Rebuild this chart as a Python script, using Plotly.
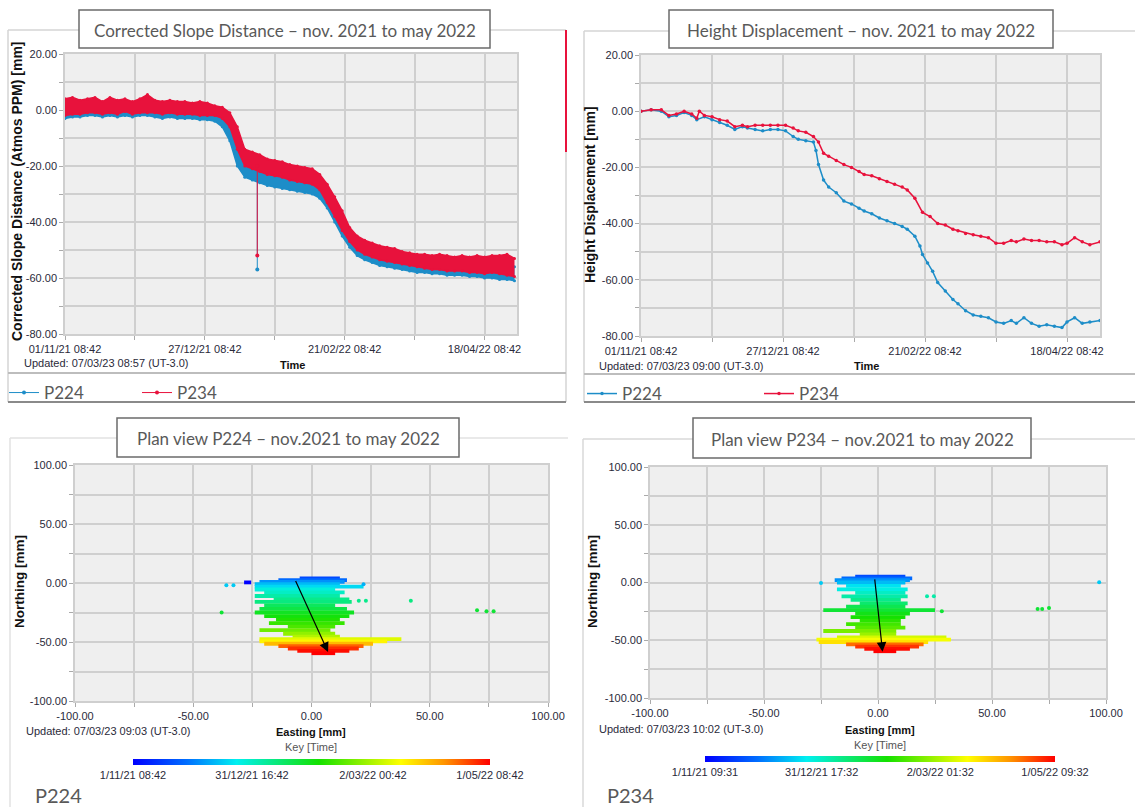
import plotly.graph_objects as go
from plotly.colors import sample_colorscale

W, H = 1135, 807
def px(x): return x / W
def py(y): return 1 - y / H

# ---------------- data ----------------
# time axis: days since 01/11/21 08:42
time_tick_days = [0, 56, 112, 168]
time_tick_text = ["01/11/21 08:42", "27/12/21 08:42", "21/02/22 08:42", "18/04/22 08:42"]
time_minor_days = [28, 84, 140]
ts_y_ticks = [20, 0, -20, -40, -60, -80]
ts_y_minor = [10, -10, -30, -50, -70]

# Corrected slope distance: envelope of the dense point cloud, sampled every 3 days
slope_days = [0, 3, 6, 9, 12, 15, 18, 21, 24, 27,
              30, 33, 36, 39, 42, 45, 48, 51, 54, 57,
              60, 63, 66, 69, 72, 75, 78, 81, 84, 87,
              90, 93, 96, 99, 102, 105, 108, 111, 114, 117,
              120, 123, 126, 129, 132, 135, 138, 141, 144, 147,
              150, 153, 156, 159, 162, 165, 168, 171, 174, 177,
              180]
p234_slope_hi = [4, 4.5, 3.5, 4, 4.5, 3, 4.5, 3.5, 4, 3,
                 4, 5.5, 3.5, 3, 3.5, 3, 3, 2.5, 3, 2.5,
                 1.5, 1, -1, -6, -14, -15, -16, -17.5, -18, -18.5,
                 -19.5, -20, -20.5, -21, -23, -26.5, -31, -36, -42, -45,
                 -46.5, -47.5, -48.5, -49, -49.5, -50.5, -51, -51.5, -51.5, -52,
                 -51.5, -52, -52.5, -52, -52.5, -52, -52.5, -52, -52, -51.5,
                 -53]
p234_slope_lo = [-2, -1.5, -1.5, -1, -1, -1.5, -1, -1.5, -0.5, -1.5,
                 -1, -1, -1, -1.5, -1, -1.5, -1.5, -1.5, -2, -2,
                 -2, -3, -6, -14, -20, -21, -22, -23, -23.5, -24,
                 -25, -25.5, -26, -26.5, -28.5, -33, -38, -43, -47, -50,
                 -51.5, -52.5, -53.5, -54, -54.5, -55, -55.5, -56, -56.5, -57,
                 -57, -57.5, -57.5, -57.5, -58, -58, -58.5, -58, -58.5, -59,
                 -59.5]
p224_slope_hi = [2, 2.5, 2, 2, 2.5, 1.5, 2, 1.5, 2, 1.5,
                 2, 1.5, 1.5, 1, 1.5, 1, 1, 0.5, 0.5, 0,
                 -0.5, -2, -6, -13, -19, -20, -21, -22, -22.5, -23,
                 -23.5, -24, -24.5, -25, -26.5, -30, -34, -39, -44, -47,
                 -49, -50, -51, -51.5, -52, -52.5, -53, -53.5, -54, -54,
                 -54, -54.5, -54.5, -54.5, -55, -55, -55, -55, -55.5, -55.5,
                 -56]
p224_slope_lo = [-3, -2.5, -2.5, -2, -2, -2.5, -2, -2.5, -2, -2.5,
                 -2, -2, -2.5, -3, -2.5, -3, -3, -3, -3.5, -3.5,
                 -4, -6, -11, -20, -24, -25, -26, -27, -27.5, -28,
                 -28.5, -29, -29.5, -30, -31.5, -35, -40, -45, -49, -52,
                 -53.5, -54.5, -55.5, -56, -56.5, -57, -57.5, -58, -58, -58.5,
                 -58.5, -59, -59, -59, -59.5, -59.5, -60, -60, -60.5, -60.5,
                 -61]
# single outlier reading (day 77)
spike_days = [77, 77]
p224_spike = [-25, -57]
p234_spike = [-20, -52]

# Height displacement
p224_hd_days = [0, 4, 8, 11, 14, 17, 20, 22, 25, 28,
                31, 34, 37, 40, 42, 45, 48, 51, 54, 57,
                60, 62, 65, 68, 69, 70, 72, 74, 77, 80,
                83, 86, 88, 91, 94, 97, 100, 103, 105, 108,
                110, 111, 113, 115, 117, 120, 123, 125, 128, 131,
                134, 137, 140, 143, 146, 148, 151, 154, 157, 160,
                163, 166, 168, 171, 174, 177, 181]
p224_hd = [0, 0.5, 0, -2, -1.5, -0.5, -1.5, -3, -2, -3,
           -4, -5, -6.5, -5.5, -6, -6.5, -7, -6.5, -6.5, -7,
           -9, -10, -10.5, -11, -14, -19, -24.5, -27, -29, -32,
           -33, -34.5, -35.5, -36.5, -38, -39, -40, -41, -42, -44.5,
           -48, -51, -54, -57, -61, -64, -67, -68.5, -71, -72.5,
           -73, -73.5, -75, -75.5, -74.5, -75.5, -73.5, -75.5, -76.5, -76,
           -76.5, -77, -75, -73.5, -75.5, -75, -74.5]
p234_hd_days = [0, 4, 8, 11, 14, 17, 20, 22, 23, 25,
                28, 31, 34, 37, 40, 42, 45, 48, 51, 54,
                57, 60, 62, 65, 68, 70, 72, 74, 77, 80,
                83, 86, 88, 91, 94, 97, 100, 103, 105, 108,
                111, 114, 117, 120, 123, 125, 128, 131, 134, 137,
                140, 143, 146, 148, 151, 154, 157, 160, 163, 166,
                168, 171, 174, 177, 181]
p234_hd = [0, 0.5, 0.5, -1.5, -1, 0, -1, -2.5, 0, -1.5,
           -2, -3, -3.5, -5.5, -5, -5.5, -5, -5, -5, -5,
           -5, -6, -7, -7.5, -9, -11, -15, -16, -17.5, -19,
           -20, -21.5, -22.5, -23, -24, -25, -26, -27, -28, -31,
           -36, -37.5, -40, -40.5, -42, -42.5, -43.5, -44, -44.5, -45,
           -47, -47, -46, -46.5, -45.5, -46, -46, -46.5, -46.5, -47.5,
           -47, -45, -46.5, -47.5, -46.5]

# Plan views: rows of the point cloud  (northing, easting from, easting to, day)
plan_ticks = [-100, -50, 0, 50, 100]
plan_minor = [-75, -25, 25, 75]
p224_row_n = [4, 2.5, 1, 0.5, -1, -3, -5.5, -8, -11, -14, -16, -19, -22, -25, -28, -31,
              -34, -37, -40, -43, -45.5, -47.5, -49.5, -51.5, -53.5, -55.5, -57.5, -59.5]
p224_row_e0 = [-5, -14, -22, -28.5, -24, -24, -24, -20, -24, -16, -24, -20, -22, -24, -20, -15,
               -18, -10, -22, -12, -8, -22, -22, -20, -14, -10, -6, 0]
p224_row_e1 = [12, 15, 14, -25.5, 12, 22, 10, 14, 12, 16, 17, 10, 15, 18, 16, 12,
               14, 10, 8, 10, 12, 38, 32, 26, 22, 20, 16, 10]
p224_row_day = [18, 26, 34, 0, 42, 48, 56, 60, 65, 70, 72, 78, 82, 88, 92, 96,
                100, 104, 110, 116, 122, 130, 138, 150, 166, 174, 179, 181]
p224_pts_e = [-38, -36, -33, 20, 23, 22, 42, 70, 74, 77]
p224_pts_n = [-25, -2, -2, -15, -15, -1, -15, -23, -24, -24]
p224_pts_day = [85, 45, 45, 70, 70, 40, 72, 85, 85, 85]
p224_arrow = [-7, 3, 7, -58.5]   # start E, start N, end E, end N

p234_row_n = [5, 3.5, 2, 0, -3, -6, -9, -12, -15, -18, -21, -24, -27, -30, -33, -36,
              -39, -42, -45, -47.5, -49.5, -51.5, -53.5, -55.5, -57.5, -59.5]
p234_row_e0 = [-10, -16, -19, -18, -14, -18, -10, -16, -12, -8, -14, -24, -10, -12, -8, -14,
               -10, -24, -8, -18, -27, -26, -14, -10, -6, -2]
p234_row_e1 = [12, 15, 14, 12, 10, 13, 12, 13, 10, 13, 12, 25, 14, 12, 10, 10,
               12, 8, 8, 30, 32, 22, 20, 18, 14, 8]
p234_row_day = [18, 26, 34, 42, 50, 55, 60, 65, 70, 75, 80, 85, 90, 94, 98, 102,
                106, 112, 118, 128, 134, 142, 164, 173, 179, 181]
p234_pts_e = [-25, 97, 21.5, 24.5, 28, 70, 72, 75]
p234_pts_n = [-0.5, 0.3, -12, -12, -25, -23, -23, -22]
p234_pts_day = [45, 45, 65, 65, 85, 85, 85, 85]
p234_arrow = [-1.5, 4, 2, -60]

key_vals = [0, 60.33, 121.67, 181]
p224_key_text = ["1/11/21 08:42", "31/12/21 16:42", "2/03/22 00:42", "1/05/22 08:42"]
p234_key_text = ["1/11/21 09:31", "31/12/21 17:32", "2/03/22 01:32", "1/05/22 09:32"]

# ---------------- styles ----------------
BLUE = "#1d8dc8"
RED = "#e8123c"
GRID = "#cfcfcf"
PLOTBG = "#efefef"
TXT = "#2a2a3a"
SANS = "Liberation Sans"
TITLEFONT = "Lato"
jet = [[0, "rgb(0,0,255)"], [0.15, "rgb(0,110,255)"], [0.29, "rgb(0,240,240)"],
       [0.52, "rgb(20,225,0)"], [0.75, "rgb(255,255,0)"], [0.87, "rgb(255,150,0)"],
       [1, "rgb(255,0,0)"]]

fig = go.Figure()

# ---- top-left: corrected slope distance
for hi, lo, col in [(p224_slope_hi, p224_slope_lo, BLUE), (p234_slope_hi, p234_slope_lo, RED)]:
    fig.add_trace(go.Scatter(x=slope_days, y=hi, mode="lines+markers", line=dict(color=col, width=1.5),
                             marker=dict(size=3, color=col),
                             showlegend=False, hoverinfo="skip", xaxis="x", yaxis="y"))
    fig.add_trace(go.Scatter(x=slope_days, y=lo, mode="lines+markers", line=dict(color=col, width=1.5),
                             marker=dict(size=3, color=col),
                             fill="tonexty", fillcolor=col, showlegend=False, hoverinfo="skip",
                             xaxis="x", yaxis="y"))
fig.add_trace(go.Scatter(x=spike_days, y=p224_spike, mode="lines+markers", name="P224",
                         line=dict(color=BLUE, width=1), marker=dict(size=4, color=BLUE),
                         xaxis="x", yaxis="y", legend="legend"))
fig.add_trace(go.Scatter(x=spike_days, y=p234_spike, mode="lines+markers", name="P234",
                         line=dict(color=RED, width=1), marker=dict(size=4, color=RED),
                         xaxis="x", yaxis="y", legend="legend"))

# ---- top-right: height displacement
fig.add_trace(go.Scatter(x=p224_hd_days, y=p224_hd, mode="lines+markers", name="P224",
                         line=dict(color=BLUE, width=1.5), marker=dict(size=3.5, color=BLUE),
                         xaxis="x2", yaxis="y2", legend="legend2"))
fig.add_trace(go.Scatter(x=p234_hd_days, y=p234_hd, mode="lines+markers", name="P234",
                         line=dict(color=RED, width=1.5), marker=dict(size=3.5, color=RED),
                         xaxis="x2", yaxis="y2", legend="legend2"))

# ---- plan views
def plan(rows_n, e0, e1, days, pe, pn, pday, xa, ya, cax):
    for n, a, b, d in zip(rows_n, e0, e1, days):
        c = sample_colorscale(jet, [d / 181])[0]
        fig.add_trace(go.Scatter(x=[a, b], y=[n, n], mode="lines", line=dict(color=c, width=3.8),
                                 showlegend=False, hoverinfo="skip", xaxis=xa, yaxis=ya))
    fig.add_trace(go.Scatter(x=pe, y=pn, mode="markers", showlegend=False,
                             marker=dict(size=4, color=pday, coloraxis=cax),
                             xaxis=xa, yaxis=ya))

plan(p224_row_n, p224_row_e0, p224_row_e1, p224_row_day, p224_pts_e, p224_pts_n, p224_pts_day,
     "x3", "y3", "coloraxis")
plan(p234_row_n, p234_row_e0, p234_row_e1, p234_row_day, p234_pts_e, p234_pts_n, p234_pts_day,
     "x4", "y4", "coloraxis2")

for arr, xa, ya in [(p224_arrow, "x3", "y3"), (p234_arrow, "x4", "y4")]:
    fig.add_annotation(x=arr[2], y=arr[3], ax=arr[0], ay=arr[1], xref=xa, yref=ya,
                       axref=xa, ayref=ya, text="", showarrow=True, arrowhead=2,
                       arrowsize=1.6, arrowwidth=1.2, arrowcolor="black")

# ---------------- axes ----------------
tickfont = dict(family=SANS, size=11, color=TXT)
def axis(domain, rng, tv, tt, minor_vals):
    return dict(domain=domain, range=rng, tickmode="array", tickvals=tv, ticktext=tt,
                showgrid=True, gridcolor=GRID, gridwidth=1.5, zeroline=False,
                showline=True, linecolor=GRID, linewidth=1.5, mirror=True,
                ticks="outside", ticklen=4, tickcolor="#aaaaaa", tickfont=tickfont,
                minor=dict(tickmode="array", tickvals=minor_vals, showgrid=True,
                           gridcolor=GRID, gridwidth=1.5, ticks="outside", ticklen=4,
                           tickcolor="#aaaaaa"),
                automargin=False, fixedrange=True)

ts_ytext = [f"{v:.2f}" for v in ts_y_ticks]
plan_text = [f"{v:.2f}" for v in plan_ticks]

fig.update_layout(
    xaxis=axis([px(65), px(517)], [0, 181], time_tick_days, time_tick_text, time_minor_days),
    yaxis=axis([py(334), py(54)], [-80, 20], ts_y_ticks, ts_ytext, ts_y_minor),
    xaxis2=axis([px(641), px(1100)], [0, 181], time_tick_days, time_tick_text, time_minor_days),
    yaxis2=axis([py(336), py(55)], [-80, 20], ts_y_ticks, ts_ytext, ts_y_minor),
    xaxis3=axis([px(75), px(548)], [-100, 100], plan_ticks, plan_text, plan_minor),
    yaxis3=axis([py(701), py(465)], [-100, 100], plan_ticks, plan_text, plan_minor),
    xaxis4=axis([px(650), px(1106)], [-100, 100], plan_ticks, plan_text, plan_minor),
    yaxis4=axis([py(698), py(467)], [-100, 100], plan_ticks, plan_text, plan_minor),
)
for a in ["xaxis", "yaxis", "xaxis2", "yaxis2", "xaxis3", "yaxis3", "xaxis4", "yaxis4"]:
    fig.layout[a].anchor = {"xaxis": "y", "yaxis": "x", "xaxis2": "y2", "yaxis2": "x2",
                            "xaxis3": "y3", "yaxis3": "x3", "xaxis4": "y4", "yaxis4": "x4"}[a]

def cbar(xc, yc, ln, text):
    return dict(colorscale=jet, cmin=0, cmax=181,
                colorbar=dict(orientation="h", x=px(xc), xanchor="center", y=py(yc),
                              yanchor="middle", len=ln, lenmode="pixels", thickness=6,
                              thicknessmode="pixels", outlinewidth=0, xpad=0, ypad=0,
                              tickmode="array", tickvals=key_vals, ticktext=text, ticks="",
                              tickfont=dict(family=SANS, size=11, color=TXT)))

legfont = dict(family=TITLEFONT, size=17, color="#595959")
fig.update_layout(
    width=W, height=H, margin=dict(l=0, r=0, t=0, b=0), autosize=False,
    paper_bgcolor="white", plot_bgcolor=PLOTBG, hovermode=False,
    coloraxis=cbar(311.5, 768, 357, p224_key_text),
    coloraxis2=cbar(880, 765, 350, p234_key_text),
    legend=dict(orientation="h", x=px(4), y=py(375), xanchor="left", yanchor="top",
                traceorder="normal",
                font=legfont, entrywidth=88, entrywidthmode="pixels", bgcolor="rgba(0,0,0,0)"),
    legend2=dict(orientation="h", x=px(582), y=py(376), xanchor="left", yanchor="top",
                 traceorder="normal",
                 font=legfont, entrywidth=132, entrywidthmode="pixels", bgcolor="rgba(0,0,0,0)"),
)

# ---------------- frames and title boxes ----------------
FRAME = "#d4d4d4"
shapes = [
    dict(type="line", x0=8, x1=566, y0=30, y1=30, line=dict(color=FRAME, width=1.5)),
    dict(type="line", x0=8, x1=8, y0=30, y1=402, line=dict(color=FRAME, width=1.5)),
    dict(type="line", x0=566, x1=566, y0=152, y1=402, line=dict(color=FRAME, width=1.5)),
    dict(type="line", x0=566, x1=566, y0=30, y1=152, line=dict(color=RED, width=2)),
    dict(type="line", x0=8, x1=566, y0=373, y1=373, line=dict(color="#bdbdbd", width=2)),
    dict(type="line", x0=8, x1=566, y0=402, y1=402, line=dict(color="#8a8a8a", width=2)),
    dict(type="line", x0=584, x1=1135, y0=31, y1=31, line=dict(color=FRAME, width=1.5)),
    dict(type="line", x0=584, x1=584, y0=31, y1=402, line=dict(color=FRAME, width=1.5)),
    dict(type="line", x0=584, x1=1135, y0=374, y1=374, line=dict(color="#bdbdbd", width=2)),
    dict(type="line", x0=584, x1=1135, y0=402, y1=402, line=dict(color="#8a8a8a", width=2)),
    dict(type="line", x0=10, x1=568, y0=438, y1=438, line=dict(color="#e2e2e2", width=1.5)),
    dict(type="line", x0=10, x1=10, y0=438, y1=807, line=dict(color="#e2e2e2", width=1.5)),
    dict(type="line", x0=583, x1=1135, y0=439, y1=439, line=dict(color="#d8d8d8", width=1.5)),
    dict(type="line", x0=583, x1=583, y0=439, y1=807, line=dict(color="#d8d8d8", width=1.5)),
]
boxes = [
    (79, 490, 10, 48, "Corrected Slope Distance \u2013 nov. 2021 to may 2022"),
    (669, 1053, 10, 48, "Height Displacement \u2013 nov. 2021 to may 2022"),
    (117, 459, 418, 457, "Plan view P224 \u2013 nov.2021 to may 2022"),
    (693, 1031, 418, 458, "Plan view P234 \u2013 nov.2021 to may 2022"),
]
for x0, x1, y0, y1, t in boxes:
    shapes.append(dict(type="rect", x0=x0, x1=x1, y0=y0, y1=y1, fillcolor="white",
                       line=dict(color="#6b6b6b", width=1.5)))
for s in shapes:
    s.update(xref="paper", yref="paper", layer="above",
             x0=px(s["x0"]), x1=px(s["x1"]), y0=py(s["y0"]), y1=py(s["y1"]))
fig.update_layout(shapes=shapes)

def note(x, y, text, size=11, bold=False, angle=0, anchor="left", color=TXT, family=SANS):
    fig.add_annotation(x=px(x), y=py(y), xref="paper", yref="paper", showarrow=False,
                       text=f"<b>{text}</b>" if bold else text, textangle=angle,
                       xanchor=anchor, yanchor="middle",
                       font=dict(family=family, size=size, color=color))

for x0, x1, y0, y1, t in boxes:
    note((x0 + x1) / 2, (y0 + y1) / 2 + 1, t, size=17, anchor="center", color="#595959",
         family=TITLEFONT)

note(17, 191, "Corrected Slope Distance (Atmos PPM) [mm]", size=14, bold=True, angle=-90, anchor="center", color="#111")
note(22, 363, "Updated: 07/03/23 08:57 (UT-3.0)")
note(292, 365, "Time", bold=True, anchor="center", color="#111")
note(590, 195, "Height Displacement [mm]", size=14, bold=True, angle=-90, anchor="center", color="#111")
note(597, 366, "Updated: 07/03/23 09:00 (UT-3.0)")
note(866, 366, "Time", bold=True, anchor="center", color="#111")

note(19, 582, "Northing [mm]", size=13.5, bold=True, angle=-90, anchor="center", color="#111")
note(24, 731, "Updated: 07/03/23 09:03 (UT-3.0)")
note(311, 732, "Easting [mm]", bold=True, anchor="center", color="#111")
note(311, 747, "Key [Time]", anchor="center", color="#555")
note(33, 795, "P224", size=20, color="#595959", family=TITLEFONT)

note(592, 582, "Northing [mm]", size=13.5, bold=True, angle=-90, anchor="center", color="#111")
note(597, 729, "Updated: 07/03/23 10:02 (UT-3.0)")
note(880, 730, "Easting [mm]", bold=True, anchor="center", color="#111")
note(880, 745, "Key [Time]", anchor="center", color="#555")
note(605, 795, "P234", size=20, color="#595959", family=TITLEFONT)

fig.write_html("out.html")
